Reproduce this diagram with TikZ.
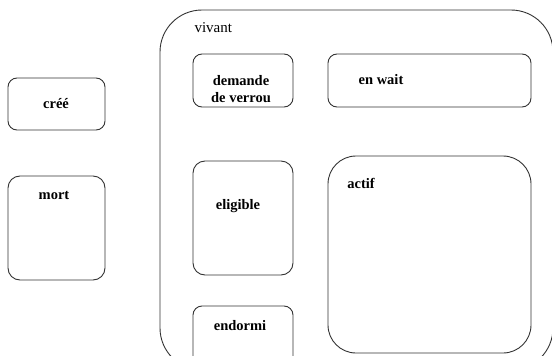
\documentclass[tikz,border=0pt]{standalone}
\usepackage{fontspec}
\setmainfont{Liberation Serif}
\usetikzlibrary{positioning}

\begin{document}
\begin{tikzpicture}[x=1pt,y=-1pt,
    etat/.style={draw=black!80, line width=0.9pt, rounded corners=9pt},
    nom/.style={font=\fontsize{14.5}{17}\selectfont\bfseries, align=center}]
    \useasboundingbox (0,0) rectangle (552,356);
    \clip (0,0) rectangle (552,356);

    % etat vivant (englobant)
    \draw[etat, rounded corners=42pt] (160,10) rectangle (553,370);
    \node[anchor=west, font=\fontsize{15}{17}\selectfont] (vivant) at (191,28) {vivant};

    % etats hors de vivant
    \draw[etat] (8,78) rectangle (105,130);
    \node[nom] (cree) at (56,104) {créé};
    \draw[etat, rounded corners=12pt] (8,176) rectangle (105,280);
    \node[nom] (mort) at (54,195) {mort};

    % sous-etats de vivant
    \draw[etat] (193,54) rectangle (293,107);
    \node[nom] (verrou) at (241,89) {demande\\de verrou};
    \draw[etat] (328,54) rectangle (531,107);
    \node[nom] (wait) at (381,80) {en wait};
    \draw[etat, rounded corners=12pt] (193,161) rectangle (293,275);
    \node[nom] (eligible) at (238,206) {eligible};
    \draw[etat] (193,306) rectangle (293,380);
    \node[nom] (endormi) at (240,326) {endormi};
    \draw[etat, rounded corners=28pt] (328,156) rectangle (531,353);
    \node[nom] (actif) at (361,183) {actif};
\end{tikzpicture}
\end{document}
